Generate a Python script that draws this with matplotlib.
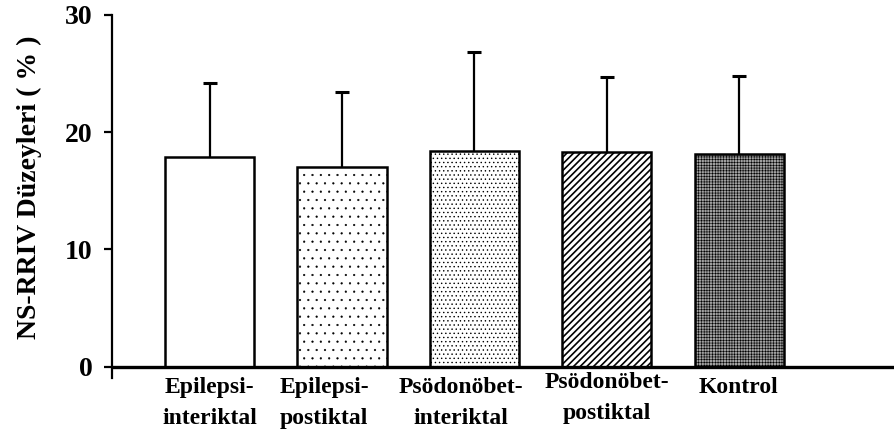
import matplotlib
matplotlib.use('Agg')
import matplotlib.pyplot as plt
from matplotlib.transforms import ScaledTranslation, blended_transform_factory

# ---- data ----
categories = ["Epilepsi-\ninteriktal", "Epilepsi-\npostiktal",
              "Psödonöbet-\ninteriktal", "Psödonöbet-\npostiktal", "Kontrol"]
means = [17.9, 17.0, 18.4, 18.3, 18.1]
sds = [6.3, 6.4, 8.4, 6.4, 6.7]
yticks = [0, 10, 20, 30]
ylabel = "NS-RRIV Düzeyleri ( % )"

# ---- styles ----
hatches = ['', '..', '....', '/////', '++++++']
faces = ['white', 'white', 'white', 'white', '#a0a0a0']
hatch_lws = [1.0, 0.35, 0.5, 1.2, 0.4]
label_dx = [0, -18, -14, 0, -1]   # pixel offsets of category labels
label_dy = [0, 0, 0, 5, 0]

plt.rcParams['font.family'] = ['Liberation Serif', 'DejaVu Serif']
plt.rcParams['font.weight'] = 'bold'
plt.rcParams['hatch.linewidth'] = 1.0

W, H = 895, 447
fig = plt.figure(figsize=(W / 100, H / 100), dpi=100)
ax = fig.add_axes([112 / W, 69 / H, 1 - 112 / W, (432.3 - 69) / H])

x = list(range(len(means)))
bars = ax.bar(x, means, width=0.672, color=faces, edgecolor='black',
              linewidth=1.8, zorder=2)
for b, h, hl in zip(bars, hatches, hatch_lws):
    b.set_hatch(h)
    if hasattr(b, 'set_hatch_linewidth'):
        b.set_hatch_linewidth(hl)

# symmetric error bars drawn behind the opaque bars -> only upper half visible
ax.errorbar(x, means, yerr=sds, fmt='none', ecolor='black',
            elinewidth=1.6, capsize=5, capthick=2.2, zorder=1)

ax.set_xlim(-0.736, 5.174)
ax.set_ylim(-0.96, 30)
ax.axhline(0, color='black', lw=2.4, zorder=4)

for s in ['top', 'right', 'bottom']:
    ax.spines[s].set_visible(False)
ax.spines['left'].set_linewidth(1.6)

ax.set_yticks(yticks)
ax.set_yticklabels([str(t) for t in yticks], fontsize=20, fontweight='bold')
ax.tick_params(axis='y', direction='out', length=5.5, width=1.6, pad=8.5)
ax.set_xticks([])

trans = blended_transform_factory(ax.transData, fig.transFigure)
for xi, lab, dx, dy in zip(x, categories, label_dx, label_dy):
    t = trans + ScaledTranslation(dx / 100, dy / 100, fig.dpi_scale_trans)
    ax.text(xi, (H - 377) / H, lab, transform=t, ha='center', va='top',
            fontsize=17, fontweight='bold', linespacing=1.65, clip_on=False)

fig.text(29 / W, (H - 187.5) / H, ylabel, rotation=90, ha='center',
         va='center', fontsize=20, fontweight='bold')

fig.savefig('out.png', dpi=100)
